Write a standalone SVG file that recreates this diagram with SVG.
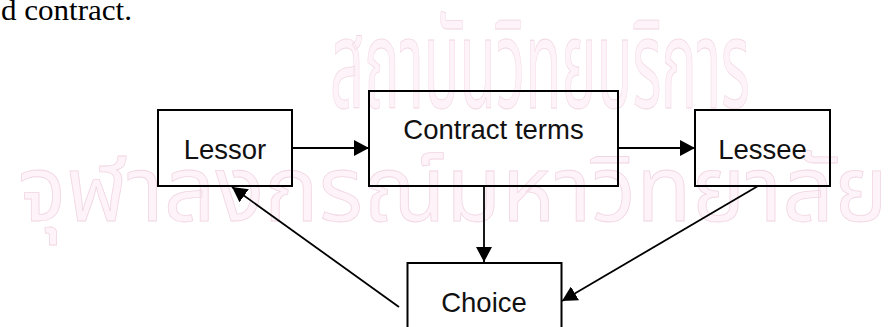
<svg xmlns="http://www.w3.org/2000/svg" width="889" height="327" viewBox="0 0 889 327">
  <style>
    .wm { font-family: "Noto Sans Thai", "Noto Sans", "DejaVu Sans", sans-serif; fill: #fdf3f8; stroke: #f1d6e3; stroke-width: 0.8; }
    .box { fill: none; stroke: #000000; stroke-width: 2; }
    .label { font-family: "Liberation Sans", Arial, sans-serif; font-size: 27.5px; fill: #111111; text-anchor: middle; }
    .edge { fill: none; stroke: #000000; stroke-width: 1.8; marker-end: url(#arrow); }
    .caption { font-family: "Liberation Serif", "Times New Roman", serif; font-size: 29px; fill: #000000; }
  </style>
  <defs>
    <marker id="arrow" markerUnits="userSpaceOnUse" markerWidth="16" markerHeight="16" refX="15" refY="8" orient="auto" viewBox="0 0 16 16">
      <path d="M0,0 L15,8 L0,16 Z" fill="#000000"/>
    </marker>
  </defs>

  <rect width="889" height="327" fill="#ffffff"/>

  <!-- background watermark -->
  <g id="watermark">
    <text class="wm" x="330" y="108" font-size="123" textLength="420" lengthAdjust="spacingAndGlyphs">สถาบันวิทยบริการ</text>
    <text class="wm" x="18" y="221" font-size="92" textLength="870" lengthAdjust="spacingAndGlyphs">จุฬาลงกรณ์มหาวิทยาลัย</text>
  </g>

  <!-- tail of the preceding sentence -->
  <text class="caption" x="1" y="20" textLength="131" lengthAdjust="spacingAndGlyphs">d contract.</text>

  <g id="connectors">
    <line class="edge" x1="292" y1="148" x2="369" y2="148"/>
    <line class="edge" x1="618" y1="148" x2="695" y2="148"/>
    <line class="edge" x1="484" y1="186" x2="484" y2="262"/>
    <line class="edge" x1="399" y1="307" x2="232" y2="187"/>
    <line class="edge" x1="758" y1="186" x2="562" y2="301"/>
  </g>

  <g id="lessor">
    <rect class="box" x="158" y="110" width="134" height="76"/>
    <text class="label" x="225" y="159">Lessor</text>
  </g>

  <g id="contract-terms">
    <rect class="box" x="369" y="91" width="249" height="95"/>
    <text class="label" x="493.5" y="139">Contract terms</text>
  </g>

  <g id="lessee">
    <rect class="box" x="695" y="110" width="135" height="76"/>
    <text class="label" x="762.5" y="159">Lessee</text>
  </g>

  <g id="choice">
    <rect class="box" x="407.5" y="263" width="154" height="80"/>
    <text class="label" x="484" y="312">Choice</text>
  </g>
</svg>
